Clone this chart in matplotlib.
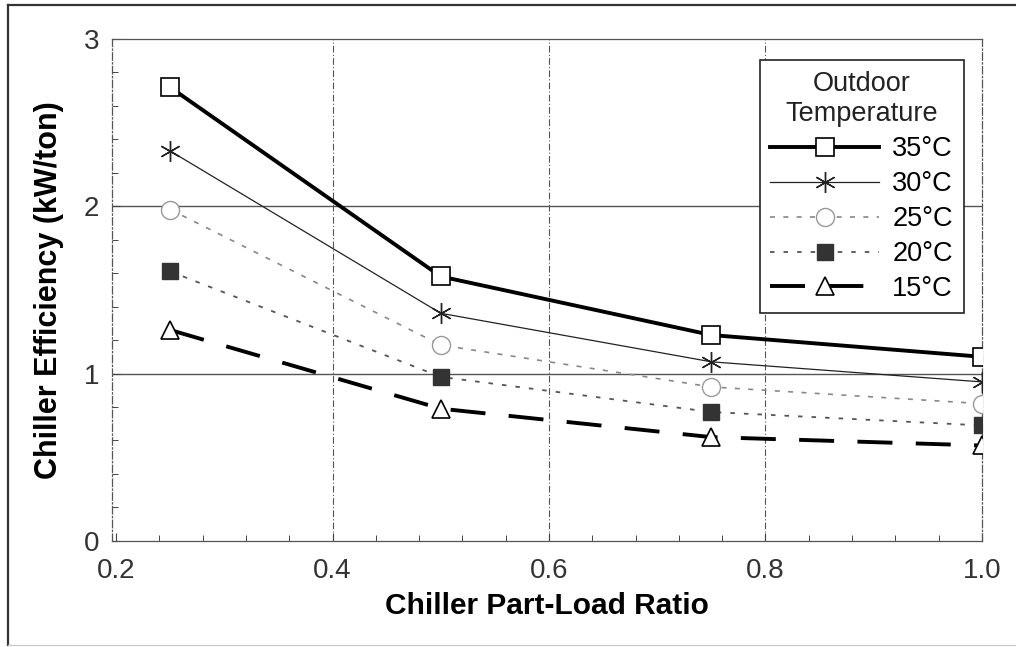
import numpy as np
import matplotlib
matplotlib.use("Agg")
import matplotlib.pyplot as plt
from matplotlib.ticker import MultipleLocator, FormatStrFormatter
from matplotlib.lines import Line2D

plt.rcParams['font.family'] = ['Liberation Sans', 'DejaVu Sans']

# chiller part-load ratio and efficiency (kW/ton) per outdoor temperature
plr = [0.25, 0.5, 0.75, 1.0]
eff_35 = [2.71, 1.58, 1.23, 1.10]
eff_30 = [2.33, 1.36, 1.07, 0.95]
eff_25 = [1.98, 1.17, 0.92, 0.82]
eff_20 = [1.61, 0.98, 0.77, 0.69]
eff_15 = [1.26, 0.79, 0.62, 0.57]
labels = ['35°C', '30°C', '25°C', '20°C', '15°C']

fig = plt.figure(figsize=(10.16, 6.47), dpi=100)
ax = fig.add_axes([0.110, 0.164, 0.8565, 0.776])

asterisk = (6, 2, 0)
ax.plot(plr, eff_35, color='black', lw=2.8, marker='s', ms=13,
        mfc='white', mec='black', mew=1.2, label=labels[0], zorder=5)
ax.plot(plr, eff_30, color='#222222', lw=0.9, marker=asterisk, ms=15,
        mec='#222222', mew=1.0, label=labels[1], zorder=5)
ax.plot(plr, eff_25, color='#888888', lw=1.2, ls=(0, (3, 5)), marker='o', ms=13,
        mfc='white', mec='#999999', mew=1.0, label=labels[2], zorder=5)
ax.plot(plr, eff_20, color='#555555', lw=1.3, ls=(0, (2.5, 5)), marker='s', ms=12,
        mfc='#333333', mec='#333333', label=labels[3], zorder=5)
ax.plot(plr, eff_15, color='black', lw=2.8, ls=(0, (9, 6)), marker='^', ms=13,
        mfc='white', mec='black', mew=1.2, label=labels[4], zorder=5)

ax.set_xlim(0.196, 1.0)
ax.set_ylim(0, 3)
ax.xaxis.set_major_locator(MultipleLocator(0.2))
ax.xaxis.set_minor_locator(MultipleLocator(0.04))
ax.yaxis.set_major_locator(MultipleLocator(1))
ax.yaxis.set_minor_locator(MultipleLocator(0.2))
ax.xaxis.set_major_formatter(FormatStrFormatter('%.1f'))
ax.tick_params(which='both', direction='in', colors='#444444', labelcolor='#333333')
ax.tick_params(which='major', length=6, width=0.8, labelsize=20)
ax.tick_params(which='minor', length=4, width=0.7)
ax.tick_params(axis='x', pad=12)
ax.tick_params(axis='y', pad=9)

for x in [0.4, 0.6, 0.8]:
    ax.axvline(x, color='#555555', lw=0.8, ls=(0, (6, 2, 1, 2)), zorder=1)
for y in [1, 2]:
    ax.axhline(y, color='#555555', lw=1.0, zorder=1)
for s in ax.spines.values():
    s.set_color('#555555')
    s.set_linewidth(0.9)
ax.spines['right'].set_linestyle((0, (6, 2, 1, 2)))
ax.spines['left'].set_linestyle((0, (6, 2, 1, 2)))

ax.set_xlabel('Chiller Part-Load Ratio', fontsize=21.5, fontweight='bold', labelpad=6)
ax.set_ylabel('Chiller Efficiency (kW/ton)', fontsize=22, fontweight='bold', labelpad=14)

leg = ax.legend(title='Outdoor\nTemperature', loc='upper right',
                bbox_to_anchor=(0.979, 0.957), borderaxespad=0,
                fontsize=19.5, title_fontsize=19.5,
                handlelength=4.0, handletextpad=0.5, labelspacing=0.33,
                borderpad=0.4, fancybox=False, framealpha=1, edgecolor='#222222')
leg.get_frame().set_linewidth(1.2)
leg.get_title().set_multialignment('center')
leg.get_title().set_color('#222222')
leg.set_zorder(10)

# outer frame of the scanned figure
fig.add_artist(Line2D([0.008, 0.008], [0.003, 0.992], color='#333333', lw=1.6))
fig.add_artist(Line2D([0.008, 1.0], [0.992, 0.992], color='#333333', lw=1.6))
fig.add_artist(Line2D([0.008, 1.0], [0.003, 0.003], color='#cccccc', lw=1.0))

fig.savefig('out.png', dpi=100)
